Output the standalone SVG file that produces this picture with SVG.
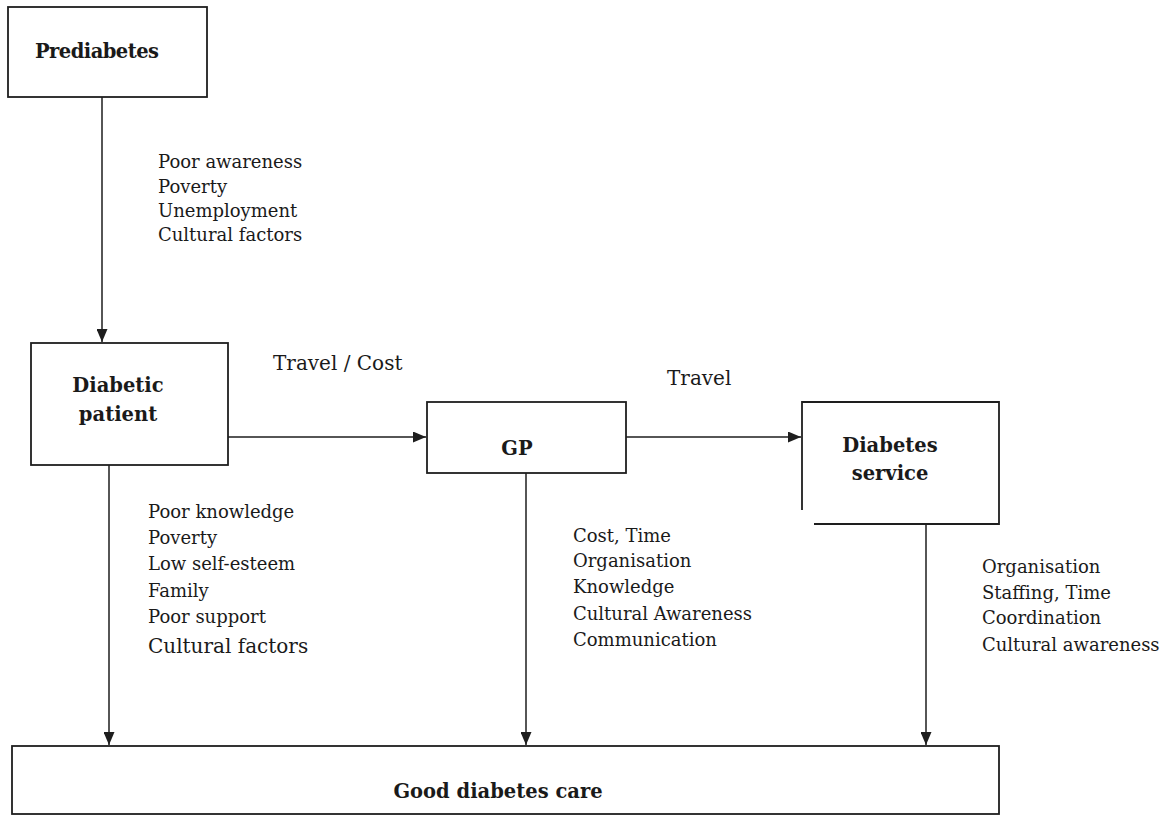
<svg xmlns="http://www.w3.org/2000/svg" width="1173" height="818" viewBox="0 0 1173 818">
<style>
.box{fill:#fff;stroke:#1e1e1e;stroke-width:1.8}
.edge{fill:none;stroke:#1e1e1e;stroke-width:1.5}
.title{font-family:"DejaVu Serif","Liberation Serif",serif;font-weight:bold;font-size:19.5px;fill:#1a1a1a}
.lab{font-family:"DejaVu Serif","Liberation Serif",serif;font-size:18px;fill:#1a1a1a}
.big{font-family:"DejaVu Serif","Liberation Serif",serif;font-size:20px;fill:#1a1a1a}
</style>
<defs>
<marker id="arr" markerUnits="userSpaceOnUse" markerWidth="14" markerHeight="11" refX="13" refY="5.5" orient="auto">
<path d="M0,0 L13,5.5 L0,11 z" fill="#1e1e1e"/>
</marker>
</defs>
<rect width="1173" height="818" fill="#fff"/>
<g id="connectors">
<line class="edge" x1="102" y1="97" x2="102" y2="342" marker-end="url(#arr)"/>
<line class="edge" x1="228" y1="437" x2="426" y2="437" marker-end="url(#arr)"/>
<line class="edge" x1="626" y1="437" x2="801" y2="437" marker-end="url(#arr)"/>
<line class="edge" x1="109" y1="465" x2="109" y2="745" marker-end="url(#arr)"/>
<line class="edge" x1="526" y1="473" x2="526" y2="745" marker-end="url(#arr)"/>
<line class="edge" x1="926" y1="524" x2="926" y2="745" marker-end="url(#arr)"/>
</g>
<g id="prediabetes">
<rect class="box" x="8" y="7" width="199" height="90"/>
<text class="title" x="35" y="58" textLength="124">Prediabetes</text>
</g>
<g id="diabetic-patient">
<rect class="box" x="31" y="343" width="197" height="122"/>
<text class="title" x="118" y="392" text-anchor="middle">Diabetic</text>
<text class="title" x="118" y="421" text-anchor="middle">patient</text>
</g>
<g id="gp">
<rect class="box" x="427" y="402" width="199" height="71"/>
<text class="title" x="517" y="455" font-size="23" text-anchor="middle">GP</text>
</g>
<g id="diabetes-service">
<path class="box" d="M802,510 V402 H999 V524 H814"/>
<text class="title" x="890" y="452" text-anchor="middle">Diabetes</text>
<text class="title" x="890" y="480" text-anchor="middle">service</text>
</g>
<g id="good-care">
<rect class="box" x="12" y="746" width="987" height="68"/>
<text class="title" x="498" y="798" font-size="22.5" text-anchor="middle">Good diabetes care</text>
</g>
<g id="labels">
<text class="lab"><tspan x="158" y="168">Poor awareness</tspan><tspan x="158" y="193">Poverty</tspan><tspan x="158" y="217">Unemployment</tspan><tspan x="158" y="241">Cultural factors</tspan></text>
<text class="big" x="273" y="370" font-size="21">Travel / Cost</text>
<text class="big" x="667" y="385">Travel</text>
<text class="lab"><tspan x="148" y="518">Poor knowledge</tspan><tspan x="148" y="544">Poverty</tspan><tspan x="148" y="570">Low self-esteem</tspan><tspan x="148" y="597">Family</tspan><tspan x="148" y="623">Poor support</tspan></text>
<text class="big" x="148" y="653">Cultural factors</text>
<text class="lab"><tspan x="573" y="542">Cost, Time</tspan><tspan x="573" y="567">Organisation</tspan><tspan x="573" y="593">Knowledge</tspan><tspan x="573" y="620">Cultural Awareness</tspan><tspan x="573" y="646">Communication</tspan></text>
<text class="lab"><tspan x="982" y="573">Organisation</tspan><tspan x="982" y="599">Staffing, Time</tspan><tspan x="982" y="624">Coordination</tspan><tspan x="982" y="651">Cultural awareness</tspan></text>
</g>
</svg>
